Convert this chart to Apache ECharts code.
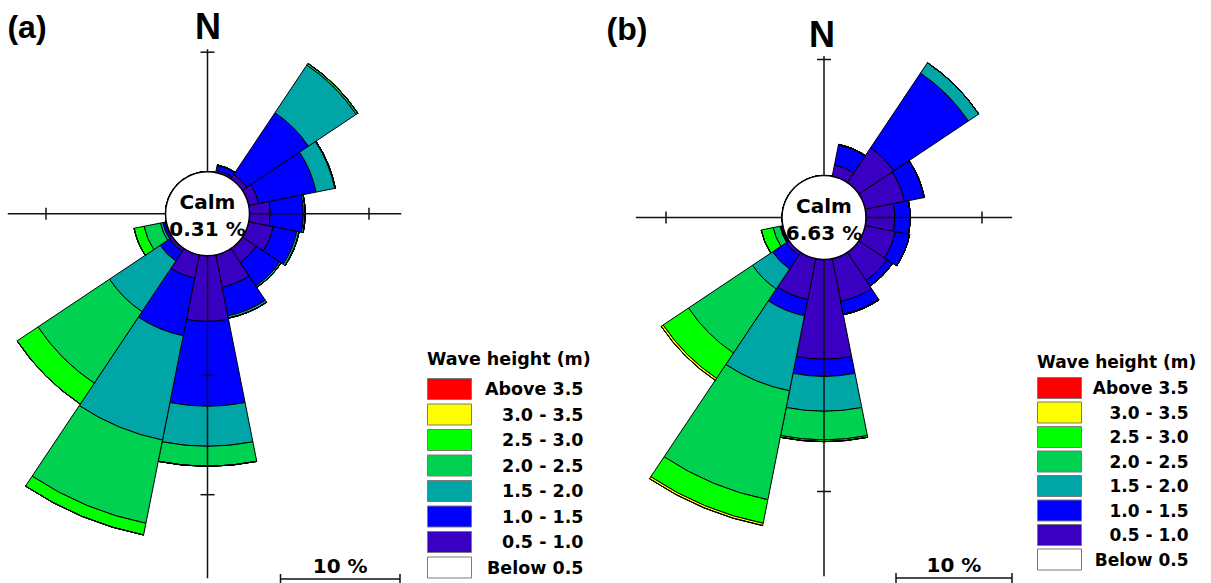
<!DOCTYPE html>
<html><head><meta charset="utf-8">
<script src="https://cdn.jsdelivr.net/npm/echarts@6/dist/echarts.min.js"></script>
<style>html,body{margin:0;padding:0;background:#fff}#c{width:1211px;height:583px}</style>
</head><body><div id="c"></div>
<script>
// ---------- data ----------
const directions = ['N','NNE','NE','ENE','E','ESE','SE','SSE','S','SSW','SW','WSW','W','WNW','NW','NNW'];
const classNames = ['Below 0.5','0.5 - 1.0','1.0 - 1.5','1.5 - 2.0','2.0 - 2.5','2.5 - 3.0','3.0 - 3.5','Above 3.5'];
const classColors = ['#ffffff','#3a00c2','#0000ff','#00a6a6','#00d150','#00ff00','#ffff00','#ff0000'];
const panelLabels = ['(a)','(b)'];
const northLabel = 'N';
const calmPercent = [0.31, 6.63];
const scaleBarPercent = 10;
const legendTitle = 'Wave height (m)';

// panel (a): frequency (%) per wave-height class, by direction
const aBelow05 = [0,0,0,0,0,0,0,0,0,0,0,0,0,0,0,0];
const a05to10  = [0,0.2,0.45,0.85,1.75,2.1,1.4,2.75,5.5,2.0,0.3,0.1,0,0,0,0];
const a10to15  = [0,0.4,6.2,4.9,2.75,2.0,2.35,2.45,7.1,4.9,0.95,0.2,0,0,0,0];
const a15to20  = [0,0.05,4.8,1.6,0.15,0.2,0.15,0.2,3.35,8.9,5.1,0.2,0,0,0,0];
const a20to25  = [0,0,0.17,0.05,0,0,0,0,1.67,7.1,7.2,1.4,0,0,0,0];
const a25to30  = [0,0,0,0,0,0,0,0,0,1.0,2.1,0.85,0,0,0,0];
const a30to35  = [0,0,0,0,0,0,0,0,0,0,0,0,0,0,0,0];
const aAbove35 = [0,0,0,0,0,0,0,0,0,0,0,0,0,0,0,0];

// panel (b)
const bBelow05 = [0,0,0,0,0,0,0,0,0,0,0,0,0,0,0,0];
const b05to10  = [0,1.0,3.6,3.45,2.5,2.65,2.9,3.75,8.6,3.6,0.3,0.1,0,0,0,0];
const b10to15  = [0,1.75,7.75,1.72,1.3,1.25,0.56,1.12,1.48,1.42,1.42,0.1,0,0,0,0];
const b15to20  = [0,0.05,1.08,0.03,0,0,0.03,0.05,3.0,6.6,2.07,0.05,0,0,0,0];
const b20to25  = [0,0,0,0,0,0,0,0,2.47,9.57,6.64,0.6,0,0,0,0];
const b25to30  = [0,0,0,0,0,0,0,0,0.15,2.07,2.63,1.05,0,0,0,0];
const b30to35  = [0,0,0,0,0,0,0,0,0,0.2,0.2,0,0,0,0,0];
const bAbove35 = [0,0,0,0,0,0,0,0,0,0,0,0,0,0,0,0];

const panelData = [
  [aBelow05,a05to10,a10to15,a15to20,a20to25,a25to30,a30to35,aAbove35],
  [bBelow05,b05to10,b10to15,b15to20,b20to25,b25to30,b30to35,bAbove35]
];

// ---------- layout ----------
const RMAX = 30;
const layout = [
  {center:[207.5,213.7], inner:42, pxPer:11.95, ext:{N:10.25,E:12.7,S:27.0,W:13.2}, ticks:{N:[10],E:[10],S:[10,20],W:[10]},
   label:[27,27], north:[208,26], legend:{x:427,y:378,gap:3.5,font:17.5,w:107}, legTitle:[427,358.5], bar:{right:400,y:579}},
  {center:[824,217.5], inner:42, pxPer:11.6, ext:{N:10.3,E:12.6,S:27.3,W:12.6}, ticks:{N:[10],E:[10],S:[10,20],W:[10]},
   label:[627,29], north:[822,34], legend:{x:1037,y:377,gap:2.5,font:17,w:102}, legTitle:[1037,361.5], bar:{right:1012,y:578}}
];
const FONT = '"DejaVu Sans", sans-serif';
const FONT2 = '"Liberation Sans", Arial, sans-serif';

const chart = echarts.init(document.getElementById('c'), null, {renderer:'svg'});

const series = [];
panelData.forEach((arrs, p) => {
  arrs.forEach((arr, i) => {
    series.push({
      type:'bar', name:classNames[i], coordinateSystem:'polar', polarIndex:p,
      stack:'rose'+p, data:arr, barCategoryGap:'0%', silent:true,
      itemStyle:{color:classColors[i], borderColor:'#000', borderWidth:1}
    });
  });
});

const legendOrder = classNames.slice().reverse();
const legends = layout.map((L, p) => ({
  left:L.legend.x, top:L.legend.y, height:210, padding:0, orient:'vertical', data:legendOrder,
  itemWidth:44, itemHeight:21, itemGap:L.legend.gap, icon:'rect', selectedMode:false,
  itemStyle:{borderColor:'#7a7a7a', borderWidth:1},
  formatter: n => '{t|' + n + '}',
  textStyle:{lineHeight:21, rich:{t:{width:L.legend.w, align:'right', fontFamily:FONT, fontWeight:'bold', fontSize:L.legend.font, color:'#000', lineHeight:21}}}
}));

chart.setOption({
  animation:false,
  backgroundColor:'#fff',
  polar: layout.map(L => ({center:L.center, radius:[L.inner, L.inner + RMAX*L.pxPer]})),
  angleAxis: layout.map((L,p) => ({polarIndex:p, type:'category', data:directions, startAngle:90+11.25, clockwise:true, boundaryGap:true, show:false})),
  radiusAxis: layout.map((L,p) => ({polarIndex:p, min:0, max:RMAX, show:false})),
  legend: legends,
  series: series
});

// ---------- decorations via the polar scales ----------
const dirIndex = {N:0, E:4, S:8, W:12};
const g = [];
layout.forEach((L, p) => {
  const pt = (r, d) => chart.convertToPixel({polarIndex:p}, [r, dirIndex[d]]);
  Object.keys(dirIndex).forEach(d => {
    const a = pt(0, d), b = pt(L.ext[d], d);
    g.push({type:'line', z:50, shape:{x1:a[0],y1:a[1],x2:b[0],y2:b[1]}, style:{stroke:'#111', lineWidth:1.5}});
    L.ticks[d].forEach(tv => {
      const c = pt(tv, d);
      const vert = (d === 'N' || d === 'S');
      g.push({type:'line', z:50, shape: vert ? {x1:c[0]-7,y1:c[1],x2:c[0]+7,y2:c[1]} : {x1:c[0],y1:c[1]-6,x2:c[0],y2:c[1]+6},
        style:{stroke:'#111', lineWidth:1.5}});
    });
  });
  // calm circle
  g.push({type:'circle', z:60, shape:{cx:L.center[0], cy:L.center[1], r:L.inner}, style:{fill:'#fff', stroke:'#000', lineWidth:1.5}});
  g.push({type:'text', z:61, x:L.center[0], y:L.center[1]+1.5, style:{text:'Calm\n' + calmPercent[p].toFixed(2) + ' %', fill:'#000',
    font:'bold 20px ' + FONT, textAlign:'center', textVerticalAlign:'middle', lineHeight:27}});
  // scale bar
  const e0 = pt(0,'E'), e1 = pt(scaleBarPercent,'E');
  const len = e1[0] - e0[0];
  const xr = L.bar.right, xl = xr - len, yb = L.bar.y;
  g.push({type:'line', z:50, shape:{x1:xl,y1:yb,x2:xr,y2:yb}, style:{stroke:'#111', lineWidth:1.5}});
  g.push({type:'line', z:50, shape:{x1:xl,y1:yb-5,x2:xl,y2:yb+5}, style:{stroke:'#111', lineWidth:1.5}});
  g.push({type:'line', z:50, shape:{x1:xr,y1:yb-5,x2:xr,y2:yb+5}, style:{stroke:'#111', lineWidth:1.5}});
  g.push({type:'text', z:50, x:(xl+xr)/2, y:yb-3, style:{text:scaleBarPercent + ' %', fill:'#000', font:'bold 20px ' + FONT, textAlign:'center', textVerticalAlign:'bottom'}});
  // panel label, north label, legend title
  g.push({type:'text', z:50, x:L.label[0], y:L.label[1], style:{text:panelLabels[p], fill:'#000', font:'bold 32px ' + FONT2, textAlign:'center', textVerticalAlign:'middle'}});
  g.push({type:'text', z:50, x:L.north[0], y:L.north[1], style:{text:northLabel, fill:'#000', font:'bold 36px ' + FONT2, textAlign:'center', textVerticalAlign:'middle'}});
  g.push({type:'text', z:50, x:L.legTitle[0], y:L.legTitle[1], style:{text:legendTitle, fill:'#000', font:'bold ' + L.legend.font + 'px ' + FONT, textAlign:'left', textVerticalAlign:'middle'}});
});
chart.setOption({graphic:{elements:g}});
</script>
</body></html>
